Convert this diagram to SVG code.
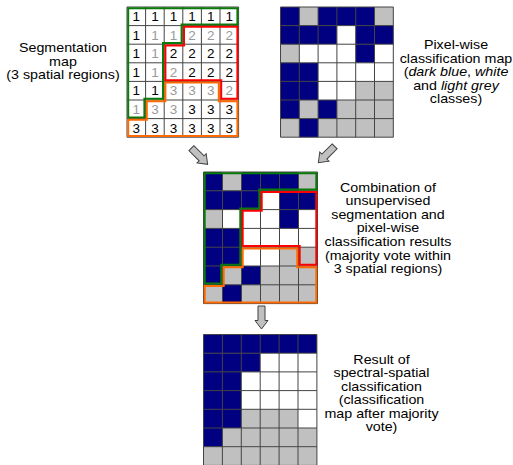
<svg xmlns="http://www.w3.org/2000/svg" width="513" height="465" viewBox="0 0 513 465">
<style>
.lbl{font-family:"Liberation Sans",Arial,sans-serif;font-size:12px;fill:#000;text-anchor:middle}
.it{font-style:italic}
.num{font-family:"Liberation Sans",Arial,sans-serif;font-size:13.5px;fill:#000;text-anchor:middle}
.gr{fill:#9a9a9a}
.gl{fill:none;stroke:#444;stroke-width:1}
.nv{fill:#000080}
.wh{fill:#fff}
.gy{fill:#c0c0c0}
.rg{fill:none;stroke-width:2;stroke-linejoin:miter}
.g1{stroke:#0a7a0a}
.r2{stroke:#ff0000}
.o3{stroke:#ff6a00}
.arr{fill:#c0c0c0;stroke:#404040;stroke-width:1}
</style>
<defs>
<path id="arrow" d="M-3.5,-11.5H3.5V3H6.5L0,11.5L-6.5,3H-3.5Z"/>
</defs>

<g id="segmentation-map">
<g transform="translate(127,7)">
<rect x="0" y="0" width="111.6" height="130.2" class="wh"/>
<path class="gl" d="M0,0V130.2M18.6,0V130.2M37.2,0V130.2M55.8,0V130.2M74.4,0V130.2M93,0V130.2M111.6,0V130.2M0,0H111.6M0,18.6H111.6M0,37.2H111.6M0,55.8H111.6M0,74.4H111.6M0,93H111.6M0,111.6H111.6M0,130.2H111.6"/>
<text class="num" y="14"><tspan x="9.3">1</tspan><tspan x="27.9">1</tspan><tspan x="46.5">1</tspan><tspan x="65.1">1</tspan><tspan x="83.7">1</tspan><tspan x="102.3">1</tspan></text>
<text class="num" y="32.6"><tspan x="9.3">1</tspan><tspan x="27.9" class="gr">1</tspan><tspan x="46.5" class="gr">1</tspan><tspan x="65.1" class="gr">2</tspan><tspan x="83.7" class="gr">2</tspan><tspan x="102.3" class="gr">2</tspan></text>
<text class="num" y="51.2"><tspan x="9.3">1</tspan><tspan x="27.9" class="gr">1</tspan><tspan x="46.5">2</tspan><tspan x="65.1">2</tspan><tspan x="83.7">2</tspan><tspan x="102.3">2</tspan></text>
<text class="num" y="69.8"><tspan x="9.3">1</tspan><tspan x="27.9" class="gr">1</tspan><tspan x="46.5" class="gr">2</tspan><tspan x="65.1">2</tspan><tspan x="83.7">2</tspan><tspan x="102.3">2</tspan></text>
<text class="num" y="88.4"><tspan x="9.3">1</tspan><tspan x="27.9">1</tspan><tspan x="46.5" class="gr">3</tspan><tspan x="65.1" class="gr">3</tspan><tspan x="83.7" class="gr">3</tspan><tspan x="102.3" class="gr">2</tspan></text>
<text class="num" y="107"><tspan x="9.3" class="gr">1</tspan><tspan x="27.9" class="gr">3</tspan><tspan x="46.5" class="gr">3</tspan><tspan x="65.1">3</tspan><tspan x="83.7">3</tspan><tspan x="102.3">3</tspan></text>
<text class="num" y="125.6"><tspan x="9.3">3</tspan><tspan x="27.9">3</tspan><tspan x="46.5">3</tspan><tspan x="65.1">3</tspan><tspan x="83.7">3</tspan><tspan x="102.3">3</tspan></text>
<polygon class="rg g1" points="1.2,1.2 110.4,1.2 110.4,17.4 54.6,17.4 54.6,36 36,36 36,91.8 17.4,91.8 17.4,110.4 1.2,110.4"/>
<polygon class="rg r2" points="57,19.8 110.4,19.8 110.4,91.8 94.2,91.8 94.2,73.2 38.4,73.2 38.4,38.4 57,38.4"/>
<polygon class="rg o3" points="38.4,75.6 91.8,75.6 91.8,94.2 110.4,94.2 110.4,129 1.2,129 1.2,112.8 19.8,112.8 19.8,94.2 38.4,94.2"/>
</g>
<g transform="translate(63,0) scale(1.19,1) translate(-63,0)">
<text class="lbl" x="63" y="52">Segmentation</text>
<text class="lbl" x="63" y="65.6">map</text>
<text class="lbl" x="63" y="79.2">(3 spatial regions)</text>
</g>
</g>

<g id="classification-map">
<g transform="translate(280.5,7)">
<rect x="0" y="0" width="112.8" height="130.2" class="gy"/>
<rect class="nv" x="0" y="0" width="18.8" height="18.6"/>
<rect class="nv" x="37.6" y="0" width="56.4" height="18.6"/>
<rect class="nv" x="0" y="18.6" width="56.4" height="18.6"/>
<rect class="nv" x="75.2" y="18.6" width="37.6" height="18.6"/>
<rect class="nv" x="75.2" y="37.2" width="18.8" height="18.6"/>
<rect class="nv" x="0" y="55.8" width="37.6" height="37.2"/>
<rect class="nv" x="0" y="93" width="18.8" height="18.6"/>
<rect class="nv" x="37.6" y="93" width="18.8" height="18.6"/>
<rect class="nv" x="18.8" y="111.6" width="18.8" height="18.6"/>
<rect class="wh" x="56.4" y="18.6" width="18.8" height="18.6"/>
<rect class="wh" x="18.8" y="37.2" width="56.4" height="18.6"/>
<rect class="wh" x="94" y="37.2" width="18.8" height="18.6"/>
<rect class="wh" x="37.6" y="55.8" width="75.2" height="18.6"/>
<rect class="wh" x="37.6" y="74.4" width="37.6" height="18.6"/>
<path class="gl" d="M0,0V130.2M18.8,0V130.2M37.6,0V130.2M56.4,0V130.2M75.2,0V130.2M94,0V130.2M112.8,0V130.2M0,0H112.8M0,18.6H112.8M0,37.2H112.8M0,55.8H112.8M0,74.4H112.8M0,93H112.8M0,111.6H112.8M0,130.2H112.8"/>
</g>
<g transform="translate(456,0) scale(1.19,1) translate(-456,0)">
<text class="lbl" x="456" y="49">Pixel-wise</text>
<text class="lbl" x="456" y="62.6">classification map</text>
<text class="lbl" x="456" y="76.2">(<tspan class="it">dark blue</tspan>, <tspan class="it">white</tspan></text>
<text class="lbl" x="456" y="89.8">and <tspan class="it">light grey</tspan></text>
<text class="lbl" x="456" y="103.4">classes)</text>
</g>
</g>

<g id="combination">
<g transform="translate(203.5,172)">
<rect x="0" y="0" width="114" height="131.6" class="gy"/>
<rect class="nv" x="0" y="0" width="19" height="18.8"/>
<rect class="nv" x="38" y="0" width="57" height="18.8"/>
<rect class="nv" x="0" y="18.8" width="57" height="18.8"/>
<rect class="nv" x="76" y="18.8" width="38" height="18.8"/>
<rect class="nv" x="76" y="37.6" width="19" height="18.8"/>
<rect class="nv" x="0" y="56.4" width="38" height="37.6"/>
<rect class="nv" x="0" y="94" width="19" height="18.8"/>
<rect class="nv" x="38" y="94" width="19" height="18.8"/>
<rect class="nv" x="19" y="112.8" width="19" height="18.8"/>
<rect class="wh" x="57" y="18.8" width="19" height="18.8"/>
<rect class="wh" x="19" y="37.6" width="57" height="18.8"/>
<rect class="wh" x="95" y="37.6" width="19" height="18.8"/>
<rect class="wh" x="38" y="56.4" width="76" height="18.8"/>
<rect class="wh" x="38" y="75.2" width="38" height="18.8"/>
<path class="gl" d="M0,0V131.6M19,0V131.6M38,0V131.6M57,0V131.6M76,0V131.6M95,0V131.6M114,0V131.6M0,0H114M0,18.8H114M0,37.6H114M0,56.4H114M0,75.2H114M0,94H114M0,112.8H114M0,131.6H114"/>
<polygon class="rg g1" points="1.2,1.2 112.8,1.2 112.8,17.6 55.8,17.6 55.8,36.4 36.8,36.4 36.8,92.8 17.8,92.8 17.8,111.6 1.2,111.6"/>
<polygon class="rg r2" points="58.2,20 112.8,20 112.8,92.8 96.2,92.8 96.2,74 39.2,74 39.2,38.8 58.2,38.8"/>
<polygon class="rg o3" points="39.2,76.4 93.8,76.4 93.8,95.2 112.8,95.2 112.8,130.4 1.2,130.4 1.2,114 20.2,114 20.2,95.2 39.2,95.2"/>
</g>
<g transform="translate(388,0) scale(1.19,1) translate(-388,0)">
<text class="lbl" x="388" y="191.7">Combination of</text>
<text class="lbl" x="388" y="205.3">unsupervised</text>
<text class="lbl" x="388" y="218.9">segmentation and</text>
<text class="lbl" x="388" y="232.5">pixel-wise</text>
<text class="lbl" x="388" y="246.1">classification results</text>
<text class="lbl" x="388" y="259.7">(majority vote within</text>
<text class="lbl" x="388" y="273.3">3 spatial regions)</text>
</g>
</g>

<g id="result">
<g transform="translate(203.5,334.5)">
<rect x="0" y="0" width="113.4" height="130.9" class="gy"/>
<rect class="nv" x="0" y="0" width="113.4" height="18.7"/>
<rect class="nv" x="0" y="18.7" width="56.7" height="18.7"/>
<rect class="nv" x="0" y="37.4" width="37.8" height="56.1"/>
<rect class="nv" x="0" y="93.5" width="18.9" height="18.7"/>
<rect class="wh" x="56.7" y="18.7" width="56.7" height="18.7"/>
<rect class="wh" x="37.8" y="37.4" width="75.6" height="37.4"/>
<rect class="wh" x="94.5" y="74.8" width="18.9" height="18.7"/>
<path class="gl" d="M0,0V130.9M18.9,0V130.9M37.8,0V130.9M56.7,0V130.9M75.6,0V130.9M94.5,0V130.9M113.4,0V130.9M0,0H113.4M0,18.7H113.4M0,37.4H113.4M0,56.1H113.4M0,74.8H113.4M0,93.5H113.4M0,112.2H113.4M0,130.9H113.4"/>
</g>
<g transform="translate(381.5,0) scale(1.19,1) translate(-381.5,0)">
<text class="lbl" x="381.5" y="364">Result of</text>
<text class="lbl" x="381.5" y="377.4">spectral-spatial</text>
<text class="lbl" x="381.5" y="390.8">classification</text>
<text class="lbl" x="381.5" y="404.2">(classification</text>
<text class="lbl" x="381.5" y="417.6">map after majority</text>
<text class="lbl" x="381.5" y="431">vote)</text>
</g>
</g>

<g id="connectors">
<use href="#arrow" class="arr" transform="translate(199.5,156.2) rotate(-45)"/>
<use href="#arrow" class="arr" transform="translate(326.5,154.5) rotate(45)"/>
<use href="#arrow" class="arr" transform="translate(261.5,317.5)"/>
</g>
</svg>
